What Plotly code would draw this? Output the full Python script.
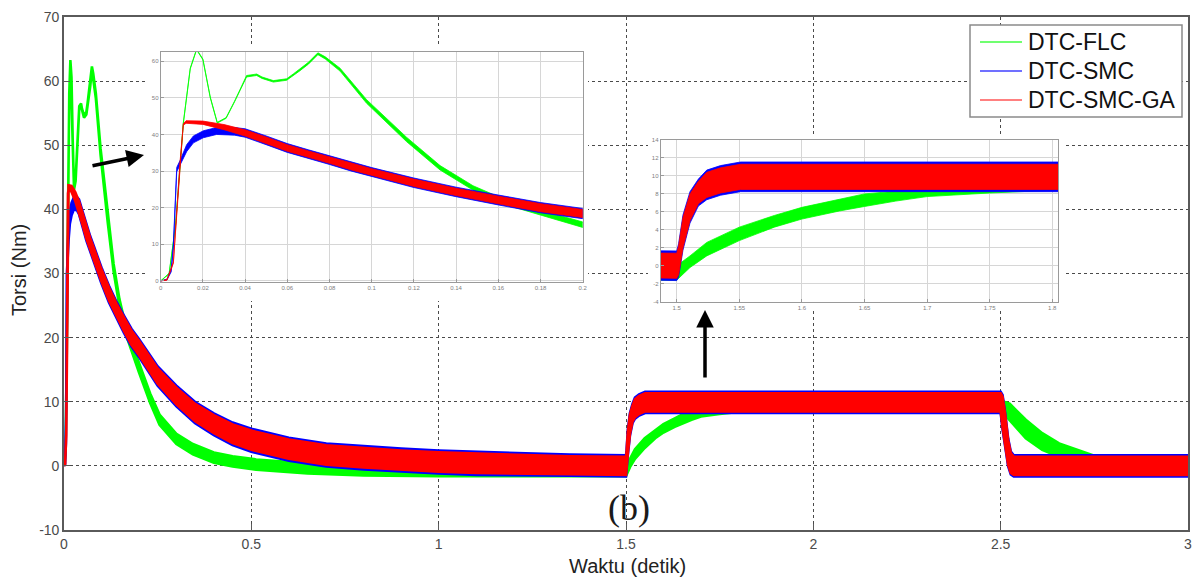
import plotly.graph_objects as go

# ---------------- data ----------------
# Each series is drawn as a ripple band: lower / upper envelope vs. time (s)
t_flc = [0, 0.004, 0.007, 0.009, 0.0107, 0.014, 0.017, 0.02, 0.0235, 0.0268,
         0.031, 0.035, 0.0407, 0.0455, 0.048, 0.0534, 0.0597, 0.063, 0.066, 0.07,
         0.0745, 0.078, 0.085, 0.0976, 0.1166, 0.1324, 0.148, 0.164, 0.18, 0.2,
         0.23, 0.255, 0.3, 0.344, 0.4, 0.45, 0.513, 0.65, 0.8, 1.0,
         1.5, 1.5106, 1.524, 1.55, 1.578, 1.6, 1.63, 1.65, 1.675, 1.7,
         1.75, 1.8, 1.9, 2.0, 2.5, 2.524, 2.567, 2.611, 2.656, 2.7,
         2.75, 2.8, 2.9, 3.0]
lo_flc = [0, 1.9, 14.9, 29.9, 42.9, 57.9, 63.1, 60.4, 50.0, 43.1,
          44.4, 48.9, 55.7, 56.1, 55.3, 54.3, 54.8, 56.2, 57.4, 59.2,
          61.8, 60.6, 57.3, 48.5, 38.0, 30.3, 24.8, 20.7, 17.9, 14.6,
          9.8, 6.4, 3.4, 1.8, 0.5, -0.1, -0.6, -1.2, -1.5, -1.6,
          -1.6, -0.2, 1.1, 2.8, 4.3, 5.2, 6.1, 6.6, 7.2, 7.7,
          8.1, 8.4, 8.6, 8.7, 8.7, 7.2, 4.3, 2.5, 1.4, 0.5,
          -0.2, -0.6, -1.0, -1.1]
hi_flc = [0, 2.1, 15.1, 30.1, 43.1, 58.1, 63.3, 60.6, 50.2, 43.3,
          44.6, 49.1, 56.1, 56.5, 55.7, 54.7, 55.2, 56.6, 57.9, 59.7,
          62.3, 61.2, 58.1, 49.5, 39.2, 31.5, 26.0, 22.0, 19.3, 16.0,
          11.3, 8.0, 5.0, 3.4, 2.1, 1.5, 1.0, 0.4, 0.1, 0.0,
          0.0, 1.1, 2.6, 4.3, 5.6, 6.5, 7.4, 8.0, 8.3, 8.7,
          9.2, 9.6, 9.9, 10.0, 10.2, 9.7, 7.2, 5.1, 3.5, 2.6,
          1.6, 1.0, 0.6, 0.5]

t_smc = [0, 0.003, 0.005, 0.006, 0.0076, 0.0091, 0.0123, 0.0155, 0.0202, 0.0265,
         0.035, 0.04, 0.05, 0.06, 0.07, 0.08, 0.09, 0.1, 0.12, 0.14,
         0.16, 0.18, 0.2, 0.25, 0.3, 0.35, 0.4, 0.45, 0.5, 0.6,
         0.7, 0.8, 0.9, 1.0, 1.1, 1.2, 1.35, 1.5, 1.5015, 1.505,
         1.5106, 1.5173, 1.524, 1.535, 1.551, 2.5, 2.505, 2.512, 2.52, 2.527,
         2.535, 3.0]
lo_smc = [0, 0.3, 2.5, 9.0, 29.8, 31.5, 35.3, 37.7, 39.1, 40.0,
          39.8, 39.25, 37.2, 35.1, 33.4, 31.8, 30.05, 28.45, 25.5, 23.0,
          20.75, 18.6, 17.0, 12.5, 9.3, 6.65, 4.8, 3.25, 2.2, 0.8,
          -0.1, -0.55, -0.9, -1.2, -1.4, -1.5, -1.55, -1.65, -1.25, 1.75,
          4.75, 6.65, 7.35, 7.85, 8.25, 8.25, 5.75, 2.75, -0.05, -1.35,
          -1.65, -1.65]
hi_smc = [0, 0.5, 3.5, 10.0, 31.0, 32.8, 37.2, 39.6, 41.0, 41.9,
          41.9, 41.55, 39.6, 37.5, 35.8, 34.2, 32.55, 30.95, 28.1, 25.6,
          23.45, 21.4, 19.8, 15.5, 12.5, 9.95, 8.2, 6.75, 5.8, 4.4,
          3.5, 3.05, 2.7, 2.4, 2.2, 2.0, 1.75, 1.65, 2.45, 5.65,
          8.25, 9.65, 10.65, 11.15, 11.55, 11.55, 11.05, 8.25, 4.25, 2.25,
          1.65, 1.65]

t_ga = [0, 0.003, 0.006, 0.0076, 0.0091, 0.0107, 0.012, 0.02, 0.03, 0.04,
        0.05, 0.06, 0.07, 0.08, 0.09, 0.1, 0.12, 0.14, 0.16, 0.18,
        0.2, 0.25, 0.3, 0.35, 0.4, 0.45, 0.5, 0.6, 0.7, 0.8,
        0.9, 1.0, 1.1, 1.2, 1.35, 1.5, 1.5015, 1.505, 1.5106, 1.5173,
        1.524, 1.535, 1.551, 2.5, 2.505, 2.512, 2.52, 2.527, 2.535, 3.0]
lo_ga = [0, 0.2, 4.8, 17.5, 32.1, 42.5, 43.05, 42.75, 41.3, 39.55,
         37.5, 35.4, 33.7, 32.1, 30.35, 28.75, 25.8, 23.3, 21.05, 18.9,
         17.3, 12.8, 9.6, 6.95, 5.1, 3.55, 2.5, 1.1, 0.2, -0.25,
         -0.6, -0.9, -1.1, -1.2, -1.3, -1.4, -1.0, 2.0, 5.0, 6.9,
         7.6, 8.1, 8.5, 8.5, 6.0, 3.0, 0.2, -1.1, -1.4, -1.4]
hi_ga = [0, 0.4, 5.2, 17.9, 32.5, 42.9, 43.75, 43.65, 42.7, 41.25,
         39.3, 37.2, 35.5, 33.9, 32.25, 30.65, 27.8, 25.3, 23.15, 21.1,
         19.5, 15.2, 12.2, 9.65, 7.9, 6.45, 5.5, 4.1, 3.2, 2.75,
         2.4, 2.1, 1.9, 1.7, 1.5, 1.4, 2.2, 5.4, 8.0, 9.4,
         10.4, 10.9, 11.3, 11.3, 10.8, 8.0, 4.0, 2.0, 1.4, 1.4]

series_names = ["DTC-FLC", "DTC-SMC", "DTC-SMC-GA"]

main_xticks = [0, 0.5, 1, 1.5, 2, 2.5, 3]
main_xticklabels = ["0", "0.5", "1", "1.5", "2", "2.5", "3"]
main_yticks = [-10, 0, 10, 20, 30, 40, 50, 60, 70]
main_yticklabels = ["-10", "0", "10", "20", "30", "40", "50", "60", "70"]

inset1_xticks = [0, 0.02, 0.04, 0.06, 0.08, 0.1, 0.12, 0.14, 0.16, 0.18, 0.2]
inset1_xticklabels = ["0", "0.02", "0.04", "0.06", "0.08", "0.1", "0.12", "0.14", "0.16", "0.18", "0.2"]
inset1_yticks = [0, 10, 20, 30, 40, 50, 60]
inset1_yticklabels = ["0", "10", "20", "30", "40", "50", "60"]

inset2_xticks = [1.5, 1.55, 1.6, 1.65, 1.7, 1.75, 1.8]
inset2_xticklabels = ["1.5", "1.55", "1.6", "1.65", "1.7", "1.75", "1.8"]
inset2_yticks = [-4, -2, 0, 2, 4, 6, 8, 10, 12, 14]
inset2_yticklabels = ["-4", "-2", "0", "2", "4", "6", "8", "10", "12", "14"]

x_title = "Waktu (detik)"
y_title = "Torsi (Nm)"
panel_label = "(b)"

# ---------------- styling / layout ----------------
W, H = 1195, 579
ML, MR, MT, MB = 64, 7, 17, 49
X_RANGE = [0, 3]
Y_RANGE = [-10, 70]
colors = ["#00ff00", "#0000ff", "#ff0000"]
legend_colors = ["#70ff70", "#7070ff", "#ff8080"]


def pxx(px):  # pixel -> paper x
    return (px - ML) / (W - ML - MR)


def pxy(py):  # pixel -> paper y
    return (H - MB - py) / (H - MT - MB)


def dx(px):  # pixel -> main data x
    return X_RANGE[0] + pxx(px) * (X_RANGE[1] - X_RANGE[0])


def dy(py):  # pixel -> main data y
    return Y_RANGE[0] + pxy(py) * (Y_RANGE[1] - Y_RANGE[0])


fig = go.Figure()

series = [(t_flc, lo_flc, hi_flc), (t_smc, lo_smc, hi_smc), (t_ga, lo_ga, hi_ga)]
axes_sets = [("x", "y", 2.6), ("x2", "y2", 0.8), ("x3", "y3", 0.8)]
for xa, ya, lw in axes_sets:
    for (t, lo, hi), c, name in zip(series, colors, series_names):
        fig.add_trace(go.Scatter(
            x=list(t) + list(t[::-1]),
            y=list(hi) + list(lo[::-1]),
            mode="lines", fill="toself", fillcolor=c,
            line=dict(color=c, width=lw),
            name=name, showlegend=False, hoverinfo="skip",
            xaxis=xa, yaxis=ya))

font_sans = "Liberation Sans, Arial, sans-serif"
grid_main = dict(showgrid=True, gridcolor="#4a4a4a", gridwidth=1, griddash="3px,3px",
                 showline=True, linecolor="#5a5a5a", linewidth=1.6, mirror=True,
                 ticks="inside", ticklen=6, tickcolor="#5a5a5a", zeroline=False,
                 automargin=False,
                 tickfont=dict(family=font_sans, size=14, color="#4a4a4a"))
grid_inset = dict(showgrid=True, gridcolor="#d6d6d6", gridwidth=1,
                  showline=True, linecolor="#9a9a9a", linewidth=1, mirror=True,
                  ticks="inside", ticklen=3, tickcolor="#9a9a9a", zeroline=False,
                  automargin=False,
                  tickfont=dict(family=font_sans, size=6, color="#808080"))

fig.update_layout(
    width=W, height=H,
    margin=dict(l=ML, r=MR, t=MT, b=MB, pad=0, autoexpand=False),
    paper_bgcolor="white", plot_bgcolor="white",
    showlegend=False,
    xaxis=dict(domain=[0, 1], range=X_RANGE, tickvals=main_xticks, ticktext=main_xticklabels,
               **grid_main),
    yaxis=dict(domain=[0, 1], range=Y_RANGE, tickvals=main_yticks, ticktext=main_yticklabels,
               **grid_main),
    xaxis2=dict(domain=[pxx(160.7), pxx(582.7)], anchor="y2", range=[0, 0.2],
                tickvals=inset1_xticks, ticktext=inset1_xticklabels, **grid_inset),
    yaxis2=dict(domain=[pxy(282), pxy(51.7)], anchor="x2", range=[-0.3, 62.6],
                tickvals=inset1_yticks, ticktext=inset1_yticklabels, **grid_inset),
    xaxis3=dict(domain=[pxx(660.7), pxx(1058)], anchor="y3", range=[1.4872, 1.8046],
                tickvals=inset2_xticks, ticktext=inset2_xticklabels, **grid_inset),
    yaxis3=dict(domain=[pxy(301.7), pxy(140)], anchor="x3", range=[-4, 14],
                tickvals=inset2_yticks, ticktext=inset2_yticklabels, **grid_inset),
)

shapes = []
# white panels behind the insets (hide the main grid there)
for (x0, y0, x1, y1) in [(145, 44, 588, 301), (648, 136, 1065, 311)]:
    shapes.append(dict(type="rect", xref="x", yref="y", layer="between",
                       x0=dx(x0), x1=dx(x1), y0=dy(y1), y1=dy(y0),
                       fillcolor="white", line=dict(width=0)))
# legend box
shapes.append(dict(type="rect", xref="paper", yref="paper",
                   x0=pxx(970), x1=pxx(1182), y0=pxy(117), y1=pxy(25),
                   fillcolor="white", line=dict(color="#8a8a8a", width=1.5), layer="above"))
legend_rows = [42, 71, 100]
for row, c in zip(legend_rows, legend_colors):
    shapes.append(dict(type="line", xref="paper", yref="paper",
                       x0=pxx(980), x1=pxx(1022), y0=pxy(row), y1=pxy(row),
                       line=dict(color=c, width=2), layer="above"))
fig.update_layout(shapes=shapes)

annotations = []
for row, name in zip(legend_rows, series_names):
    annotations.append(dict(xref="paper", yref="paper", x=pxx(1026), y=pxy(row),
                            xanchor="left", yanchor="middle", showarrow=False,
                            text=name, font=dict(family=font_sans, size=23, color="#111")))
# axis titles
annotations.append(dict(xref="paper", yref="paper", x=pxx(627), y=pxy(566),
                        xanchor="center", yanchor="middle", showarrow=False,
                        text=x_title, font=dict(family=font_sans, size=20, color="#222")))
annotations.append(dict(xref="paper", yref="paper", x=pxx(19), y=pxy(270),
                        xanchor="center", yanchor="middle", showarrow=False, textangle=-90,
                        text=y_title, font=dict(family=font_sans, size=20, color="#222")))
annotations.append(dict(xref="paper", yref="paper", x=pxx(629), y=pxy(508),
                        xanchor="center", yanchor="middle", showarrow=False,
                        text=panel_label, font=dict(family="Liberation Serif, Times New Roman, serif",
                                                    size=36, color="#1a1a1a")))
# arrows
annotations.append(dict(xref="paper", yref="paper", x=pxx(144), y=pxy(155),
                        ax=-53, ay=11, text="", showarrow=True, arrowhead=2,
                        arrowsize=1, arrowwidth=3.5, arrowcolor="#000", standoff=0))
annotations.append(dict(xref="paper", yref="paper", x=pxx(705), y=pxy(310),
                        ax=0, ay=69, text="", showarrow=True, arrowhead=2,
                        arrowsize=1, arrowwidth=3.5, arrowcolor="#000", standoff=0))
fig.update_layout(annotations=annotations)

fig.write_html("out.html",
               config={"displayModeBar": False},
               post_script="document.body.style.margin='0px';"
                           "document.body.style.overflow='hidden';")
